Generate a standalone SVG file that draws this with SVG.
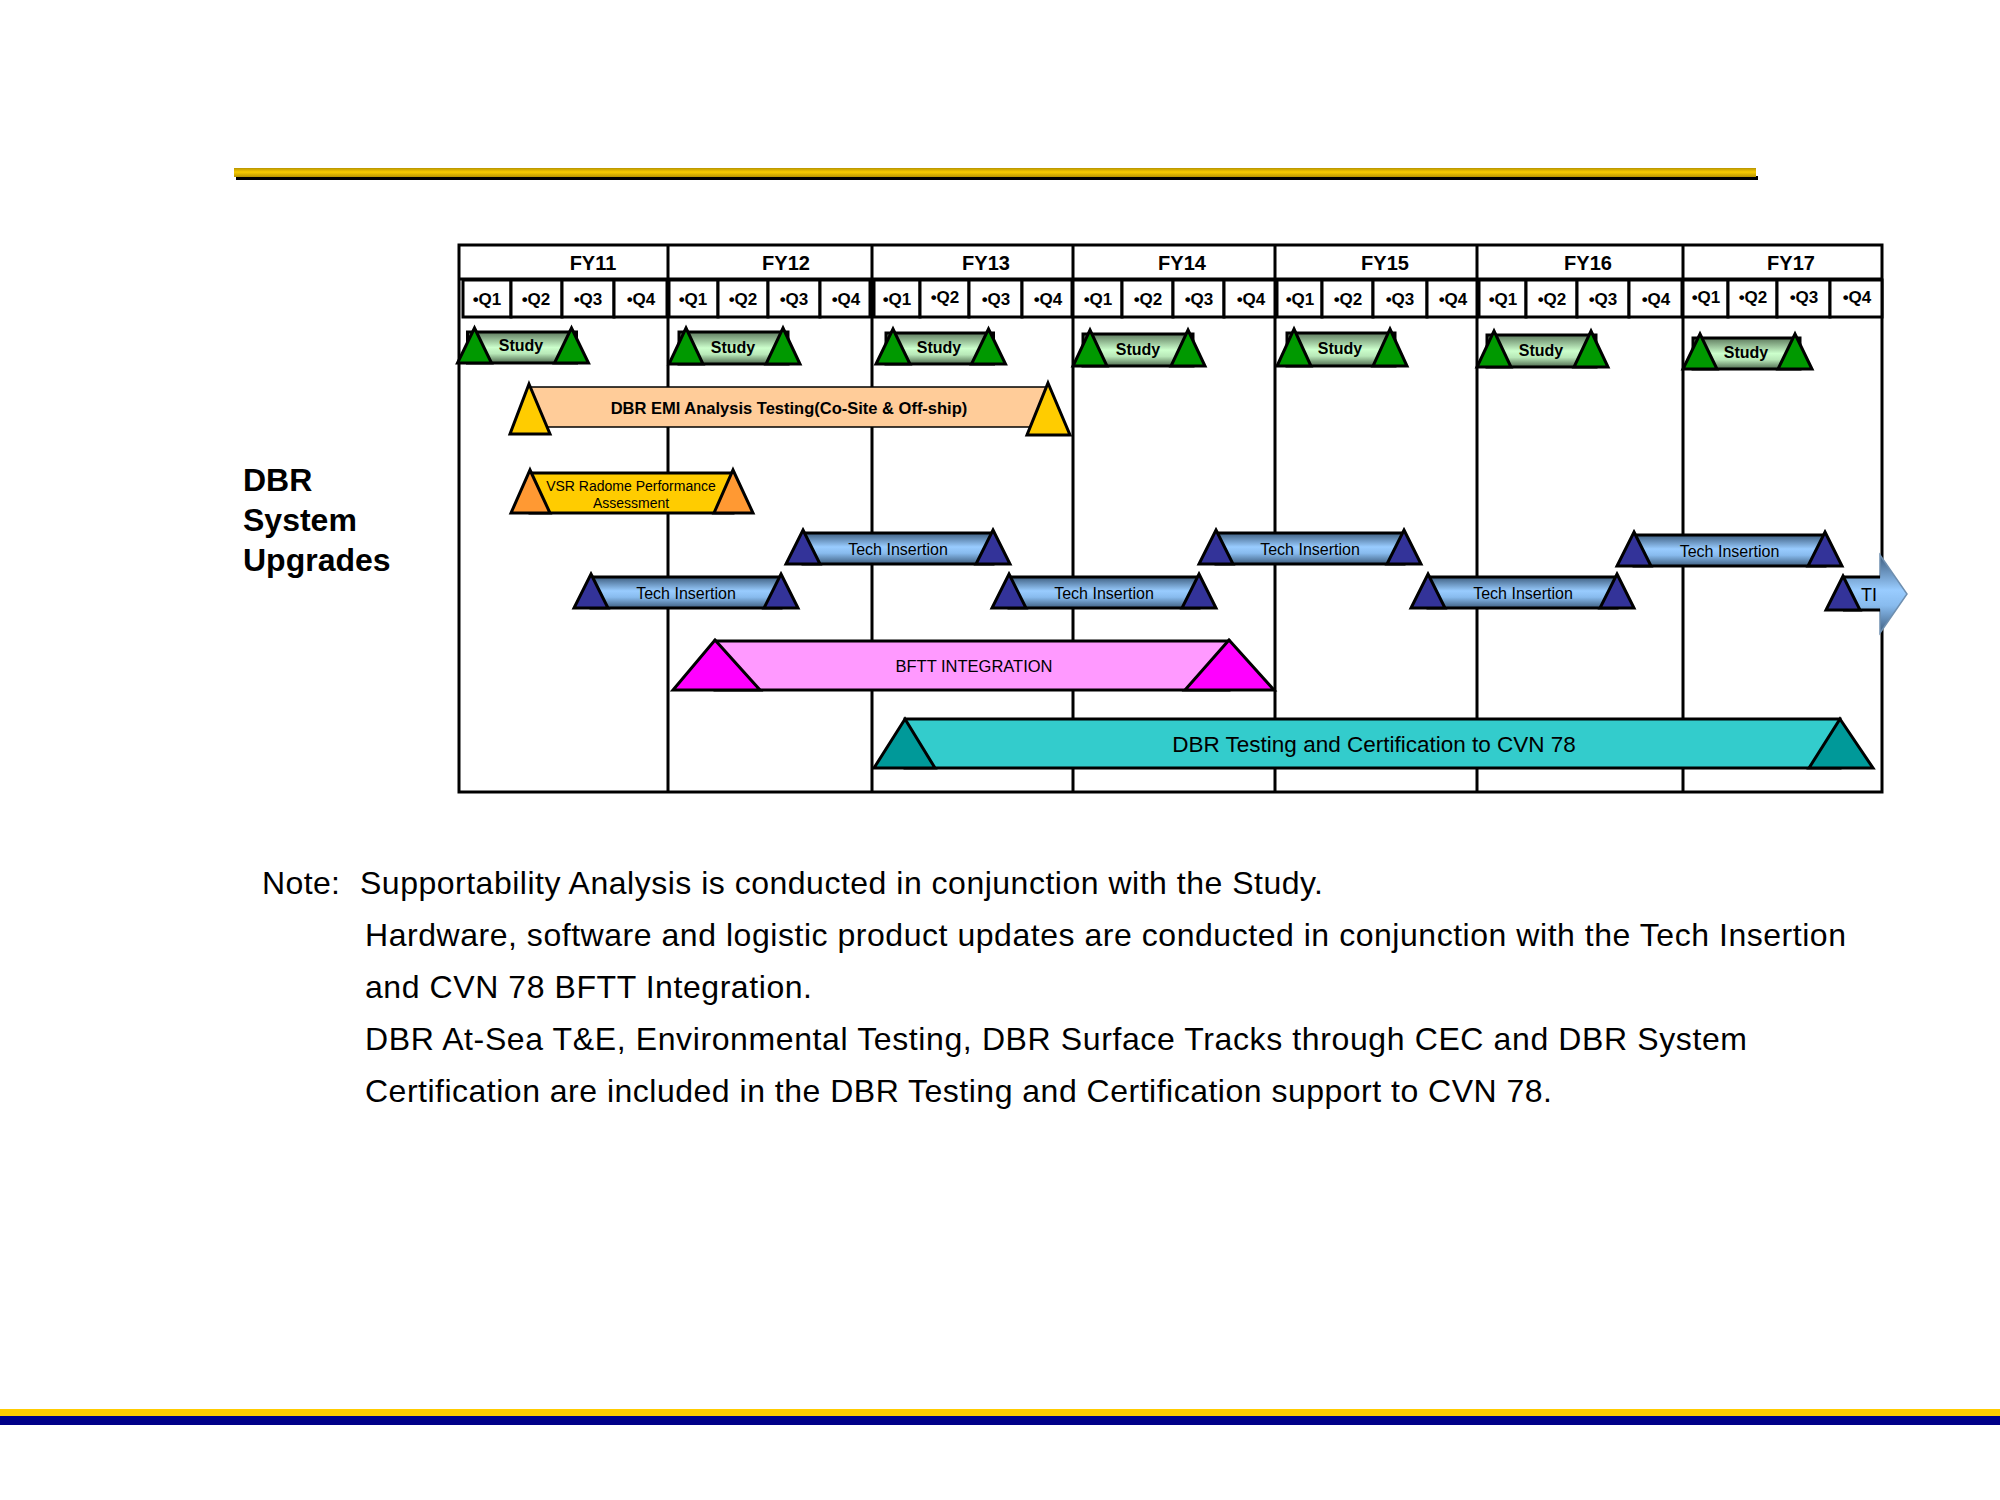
<svg xmlns="http://www.w3.org/2000/svg" width="2000" height="1500" viewBox="0 0 2000 1500">
<defs>
<linearGradient id="gold" x1="0" y1="0" x2="0" y2="1"><stop offset="0" stop-color="#B89400"/><stop offset="0.45" stop-color="#F8CC00"/><stop offset="1" stop-color="#B89400"/></linearGradient>
<linearGradient id="studyG" x1="0" y1="0" x2="0" y2="1"><stop offset="0" stop-color="#5E7A5E"/><stop offset="0.5" stop-color="#CCFFCC"/><stop offset="0.7" stop-color="#B8E8B8"/><stop offset="1" stop-color="#4E6A4E"/></linearGradient>
<linearGradient id="blueG" x1="0" y1="0" x2="0" y2="1"><stop offset="0" stop-color="#3E5E80"/><stop offset="0.45" stop-color="#99CCFF"/><stop offset="0.65" stop-color="#88BBEE"/><stop offset="1" stop-color="#3E5E80"/></linearGradient>
</defs>
<style>
.ln{stroke:#000;stroke-width:3;fill:none}
.qbox{fill:#fff;stroke:#000;stroke-width:3}
.fy{font-family:"Liberation Sans",Arial,sans-serif;font-weight:bold;font-size:20px;text-anchor:middle;fill:#000}
.q{font-family:"Liberation Sans",Arial,sans-serif;font-weight:bold;font-size:17px;text-anchor:middle;fill:#000}
.sbar{fill:url(#studyG);stroke:#000;stroke-width:3}
.tg{fill:#009900;stroke:#000;stroke-width:3;stroke-linejoin:miter}
.st{font-family:"Liberation Sans",Arial,sans-serif;font-weight:bold;font-size:16px;text-anchor:middle;fill:#000}
.bbar{fill:url(#blueG);stroke:#000;stroke-width:3}
.tb{fill:#333399;stroke:#000;stroke-width:3}
.bt{font-family:"Liberation Sans",Arial,sans-serif;font-size:16px;text-anchor:middle;fill:#000}
.ty{fill:#FFCC00;stroke:#000;stroke-width:3}
.to{fill:#FF9933;stroke:#000;stroke-width:3}
.tm{fill:#FF00FF;stroke:#000;stroke-width:3}
.tt{fill:#009999;stroke:#000;stroke-width:3}
.note{font-family:"Liberation Sans",Arial,sans-serif;font-size:32px;fill:#000}
.side{font-family:"Liberation Sans",Arial,sans-serif;font-weight:bold;font-size:32px;fill:#000}
</style>
<rect width="2000" height="1500" fill="#fff"/>
<g id="top-rule">
<rect x="236" y="176" width="1522" height="4" fill="#000"/>
<rect x="234" y="168" width="1522" height="9" fill="url(#gold)"/>
</g>
<g id="bottom-rule">
<rect x="0" y="1409" width="2000" height="7" fill="#FFCC00"/>
<rect x="0" y="1416" width="2000" height="9" fill="#000088"/>
</g>
<g id="side-label">
<text class="side" x="243" y="491">DBR</text>
<text class="side" x="243" y="531">System</text>
<text class="side" x="243" y="571">Upgrades</text>
</g>
<g id="grid">
<rect class="ln" x="459" y="245" width="1423" height="547"/>
<line class="ln" x1="459" y1="279" x2="1882" y2="279"/>
<line class="ln" x1="668" y1="245" x2="668" y2="792"/>
<line class="ln" x1="872" y1="245" x2="872" y2="792"/>
<line class="ln" x1="1073" y1="245" x2="1073" y2="792"/>
<line class="ln" x1="1275" y1="245" x2="1275" y2="792"/>
<line class="ln" x1="1477" y1="245" x2="1477" y2="792"/>
<line class="ln" x1="1683" y1="245" x2="1683" y2="792"/>
</g>
<g id="years">
<text class="fy" x="593" y="270">FY11</text>
<text class="fy" x="786" y="270">FY12</text>
<text class="fy" x="986" y="270">FY13</text>
<text class="fy" x="1182" y="270">FY14</text>
<text class="fy" x="1385" y="270">FY15</text>
<text class="fy" x="1588" y="270">FY16</text>
<text class="fy" x="1791" y="270">FY17</text>
</g>
<g id="quarters">
<rect class="qbox" x="463" y="280" width="48" height="37"/><rect class="qbox" x="511" y="280" width="51" height="37"/><rect class="qbox" x="562" y="280" width="52" height="37"/><rect class="qbox" x="614" y="280" width="53" height="37"/>
<rect class="qbox" x="669" y="280" width="49" height="37"/><rect class="qbox" x="718" y="280" width="50" height="37"/><rect class="qbox" x="768" y="280" width="52" height="37"/><rect class="qbox" x="820" y="280" width="50" height="37"/>
<rect class="qbox" x="874" y="280" width="46" height="37"/><rect class="qbox" x="920" y="280" width="49" height="37"/><rect class="qbox" x="969" y="280" width="53" height="37"/><rect class="qbox" x="1022" y="280" width="50" height="37"/>
<rect class="qbox" x="1073" y="280" width="49" height="37"/><rect class="qbox" x="1122" y="280" width="51" height="37"/><rect class="qbox" x="1173" y="280" width="51" height="37"/><rect class="qbox" x="1224" y="280" width="51" height="37"/>
<rect class="qbox" x="1277" y="280" width="45" height="37"/><rect class="qbox" x="1322" y="280" width="51" height="37"/><rect class="qbox" x="1373" y="280" width="54" height="37"/><rect class="qbox" x="1427" y="280" width="50" height="37"/>
<rect class="qbox" x="1479" y="280" width="47" height="37"/><rect class="qbox" x="1526" y="280" width="51" height="37"/><rect class="qbox" x="1577" y="280" width="52" height="37"/><rect class="qbox" x="1629" y="280" width="53" height="37"/>
<rect class="qbox" x="1683" y="280" width="45" height="37"/><rect class="qbox" x="1728" y="280" width="49" height="37"/><rect class="qbox" x="1777" y="280" width="53" height="37"/><rect class="qbox" x="1830" y="280" width="52" height="37"/>
<text class="q" x="487" y="305">•Q1</text><text class="q" x="536" y="305">•Q2</text><text class="q" x="588" y="305">•Q3</text><text class="q" x="641" y="305">•Q4</text>
<text class="q" x="693" y="305">•Q1</text><text class="q" x="743" y="305">•Q2</text><text class="q" x="794" y="305">•Q3</text><text class="q" x="846" y="305">•Q4</text>
<text class="q" x="897" y="305">•Q1</text><text class="q" x="945" y="303">•Q2</text><text class="q" x="996" y="305">•Q3</text><text class="q" x="1048" y="305">•Q4</text>
<text class="q" x="1098" y="305">•Q1</text><text class="q" x="1148" y="305">•Q2</text><text class="q" x="1199" y="305">•Q3</text><text class="q" x="1251" y="305">•Q4</text>
<text class="q" x="1300" y="305">•Q1</text><text class="q" x="1348" y="305">•Q2</text><text class="q" x="1400" y="305">•Q3</text><text class="q" x="1453" y="305">•Q4</text>
<text class="q" x="1503" y="305">•Q1</text><text class="q" x="1552" y="305">•Q2</text><text class="q" x="1603" y="305">•Q3</text><text class="q" x="1656" y="305">•Q4</text>
<text class="q" x="1706" y="303">•Q1</text><text class="q" x="1753" y="303">•Q2</text><text class="q" x="1804" y="303">•Q3</text><text class="q" x="1857" y="303">•Q4</text>
</g>
<g id="study-fy11"><rect class="sbar" x="467.5" y="332" width="109" height="31"/><polygon class="tg" points="474.5,328 491.5,363 457.5,363"/><polygon class="tg" points="571.5,328 588.5,363 554.5,363"/><text class="st" x="521" y="351">Study</text></g>
<g id="study-fy12"><rect class="sbar" x="679" y="332" width="109" height="32"/><polygon class="tg" points="686,328 703,364 669,364"/><polygon class="tg" points="783,328 800,364 766,364"/><text class="st" x="733" y="353">Study</text></g>
<g id="study-fy13"><rect class="sbar" x="886" y="333" width="107.5" height="31"/><polygon class="tg" points="893,329 910,364 876,364"/><polygon class="tg" points="988.5,329 1005.5,364 971.5,364"/><text class="st" x="939" y="353">Study</text></g>
<g id="study-fy14"><rect class="sbar" x="1083" y="334" width="110" height="32"/><polygon class="tg" points="1090,330 1107,366 1073,366"/><polygon class="tg" points="1188,330 1205,366 1171,366"/><text class="st" x="1138" y="355">Study</text></g>
<g id="study-fy15"><rect class="sbar" x="1287" y="333" width="108" height="33"/><polygon class="tg" points="1294,329 1311,366 1277,366"/><polygon class="tg" points="1390,329 1407,366 1373,366"/><text class="st" x="1340" y="354">Study</text></g>
<g id="study-fy16"><rect class="sbar" x="1487" y="335" width="109" height="32"/><polygon class="tg" points="1494,331 1511,367 1477,367"/><polygon class="tg" points="1591,331 1608,367 1574,367"/><text class="st" x="1541" y="356">Study</text></g>
<g id="study-fy17"><rect class="sbar" x="1693" y="338" width="107" height="31"/><polygon class="tg" points="1700,334 1717,369 1683,369"/><polygon class="tg" points="1795,334 1812,369 1778,369"/><text class="st" x="1746" y="358">Study</text></g>
<g id="emi">
<rect x="530" y="387" width="516" height="40" fill="#FFCC99" stroke="#000" stroke-width="1.5"/>
<polygon class="ty" points="529,384 550,434 510,434"/>
<polygon class="ty" points="1048,383 1070,435 1027,435"/>
<text x="789" y="414" font-family="Liberation Sans, Arial, sans-serif" font-weight="bold" font-size="16.5" text-anchor="middle">DBR EMI Analysis Testing(Co-Site &amp; Off-ship)</text>
</g>
<g id="vsr">
<rect x="530" y="473" width="203" height="40" fill="#FFCC00" stroke="#000" stroke-width="3"/>
<polygon class="to" points="530,470 550,513 511,513"/>
<polygon class="to" points="733,470 753,513 714,513"/>
<text x="631" y="491" font-family="Liberation Sans, Arial, sans-serif" font-size="14" text-anchor="middle">VSR Radome Performance</text>
<text x="631" y="508" font-family="Liberation Sans, Arial, sans-serif" font-size="14" text-anchor="middle">Assessment</text>
</g>
<g id="ti-1"><rect class="bbar" x="591" y="577" width="190" height="31"/><polygon class="tb" points="591,574 608,608 574,608"/><polygon class="tb" points="781,574 798,608 764,608"/><text class="bt" x="686" y="599">Tech Insertion</text></g>
<g id="ti-2"><rect class="bbar" x="803" y="533" width="190" height="31"/><polygon class="tb" points="803,530 820,564 786,564"/><polygon class="tb" points="993,530 1010,564 976,564"/><text class="bt" x="898" y="555">Tech Insertion</text></g>
<g id="ti-3"><rect class="bbar" x="1009" y="577" width="190" height="31"/><polygon class="tb" points="1009,574 1026,608 992,608"/><polygon class="tb" points="1199,574 1216,608 1182,608"/><text class="bt" x="1104" y="599">Tech Insertion</text></g>
<g id="ti-4"><rect class="bbar" x="1216" y="533" width="188" height="31"/><polygon class="tb" points="1216,530 1233,564 1199,564"/><polygon class="tb" points="1404,530 1421,564 1387,564"/><text class="bt" x="1310" y="555">Tech Insertion</text></g>
<g id="ti-5"><rect class="bbar" x="1428" y="577" width="189" height="31"/><polygon class="tb" points="1428,574 1445,608 1411,608"/><polygon class="tb" points="1617,574 1634,608 1600,608"/><text class="bt" x="1523" y="599">Tech Insertion</text></g>
<g id="ti-6"><rect class="bbar" x="1634" y="535" width="191" height="31"/><polygon class="tb" points="1634,532 1651,566 1617,566"/><polygon class="tb" points="1825,532 1842,566 1808,566"/><text class="bt" x="1729.5" y="557">Tech Insertion</text></g>
<g id="ti-arrow">
<polygon points="1843,577 1880,577 1880,555 1907,594 1880,633 1880,610 1843,610" fill="url(#blueG)" stroke="#6E8FB0" stroke-width="1.5"/>
<line x1="1843" y1="577" x2="1880" y2="577" stroke="#000" stroke-width="3"/>
<line x1="1843" y1="610" x2="1880" y2="610" stroke="#000" stroke-width="3"/>
<polygon class="tb" points="1843,576 1860,610 1826,610"/>
<text x="1869" y="601" font-family="Liberation Sans, Arial, sans-serif" font-size="18" text-anchor="middle">TI</text>
</g>
<g id="bftt">
<rect x="715" y="641" width="514" height="49" fill="#FF99FF" stroke="#000" stroke-width="3"/>
<polygon class="tm" points="715,640 760,690 673,690"/>
<polygon class="tm" points="1229,640 1274,690 1185,690"/>
<text x="974" y="672" font-family="Liberation Sans, Arial, sans-serif" font-size="16.5" text-anchor="middle">BFTT INTEGRATION</text>
</g>
<g id="dbr-testing">
<rect x="905" y="719" width="935" height="49" fill="#33CCCC" stroke="#000" stroke-width="3"/>
<polygon class="tt" points="905,719 935,768 874,768"/>
<polygon class="tt" points="1840,719 1873,768 1809,768"/>
<text x="1374" y="752" font-family="Liberation Sans, Arial, sans-serif" font-size="22.5" text-anchor="middle">DBR Testing and Certification to CVN 78</text>
</g>
<g id="connectors"/>
<g id="notes">
<text class="note" x="262" y="894" textLength="78" lengthAdjust="spacing">Note:</text>
<text class="note" x="360" y="894" textLength="963" lengthAdjust="spacing">Supportability Analysis is conducted in conjunction with the Study.</text>
<text class="note" x="365" y="946" textLength="1481" lengthAdjust="spacing">Hardware, software and logistic product updates are conducted in conjunction with the Tech Insertion</text>
<text class="note" x="365" y="998" textLength="447" lengthAdjust="spacing">and CVN 78 BFTT Integration.</text>
<text class="note" x="365" y="1050" textLength="1382" lengthAdjust="spacing">DBR At-Sea T&amp;E, Environmental Testing, DBR Surface Tracks through CEC and DBR System</text>
<text class="note" x="365" y="1102" textLength="1187" lengthAdjust="spacing">Certification are included in the DBR Testing and Certification support to CVN 78.</text>
</g>
</svg>
